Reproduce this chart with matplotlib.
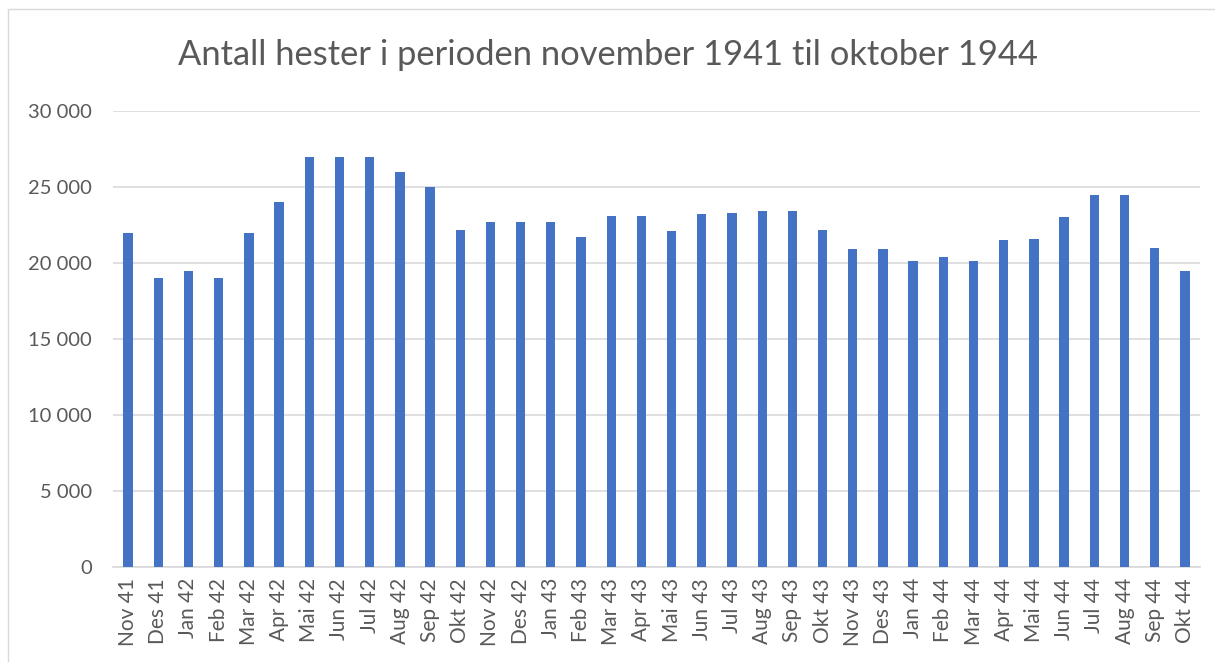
import matplotlib.pyplot as plt
from matplotlib.patches import Rectangle
from matplotlib.ticker import FuncFormatter

months = [
    "Nov 41", "Des 41", "Jan 42", "Feb 42", "Mar 42", "Apr 42", "Mai 42", "Jun 42",
    "Jul 42", "Aug 42", "Sep 42", "Okt 42", "Nov 42", "Des 42", "Jan 43", "Feb 43",
    "Mar 43", "Apr 43", "Mai 43", "Jun 43", "Jul 43", "Aug 43", "Sep 43", "Okt 43",
    "Nov 43", "Des 43", "Jan 44", "Feb 44", "Mar 44", "Apr 44", "Mai 44", "Jun 44",
    "Jul 44", "Aug 44", "Sep 44", "Okt 44",
]
horses = [
    22000, 19000, 19500, 19000, 22000, 24000, 27000, 27000,
    27000, 26000, 25000, 22200, 22700, 22700, 22700, 21700,
    23100, 23100, 22100, 23200, 23300, 23400, 23400, 22200,
    20900, 20900, 20100, 20400, 20100, 21500, 21600, 23000,
    24500, 24500, 21000, 19500,
]
y_ticks = [0, 5000, 10000, 15000, 20000, 25000, 30000]

plt.rcParams["font.family"] = ["Lato", "DejaVu Sans"]

fig = plt.figure(figsize=(12.15, 6.62), dpi=100)
ax = fig.add_axes([113 / 1215, 1 - 567 / 662, 1087 / 1215, 456 / 662])

# outer chart frame
fig.patches.append(Rectangle((8 / 1215, -0.01), 1.0, 1 - 9 / 662 + 0.01,
                             transform=fig.transFigure, fill=False,
                             edgecolor="#D9D9D9", linewidth=1))

x = range(len(months))
ax.bar(x, horses, width=0.31, color="#4472C4", zorder=3)

ax.set_xlim(-0.5, len(months) - 0.5)
ax.set_ylim(0, 30000)
ax.set_yticks(y_ticks)
ax.yaxis.set_major_formatter(FuncFormatter(lambda v, p: f"{int(v):,}".replace(",", " ")))
ax.set_xticks(list(x))
ax.set_xticklabels(months, rotation=90)

ax.grid(axis="y", color="#D9D9D9", linewidth=1.2, zorder=0)
for s in ["top", "right", "left"]:
    ax.spines[s].set_visible(False)
ax.spines["bottom"].set_color("#D9D9D9")
ax.spines["bottom"].set_linewidth(1.2)
ax.tick_params(axis="both", length=0, colors="#595959")
ax.tick_params(axis="y", labelsize=14.5, pad=15)
ax.tick_params(axis="x", labelsize=15, pad=8)

fig.text(0.5, 1 - 55 / 662, "Antall hester i perioden november 1941 til oktober 1944",
         ha="center", va="center", fontsize=24.8, color="#595959")

fig.savefig("out.png", dpi=100)
